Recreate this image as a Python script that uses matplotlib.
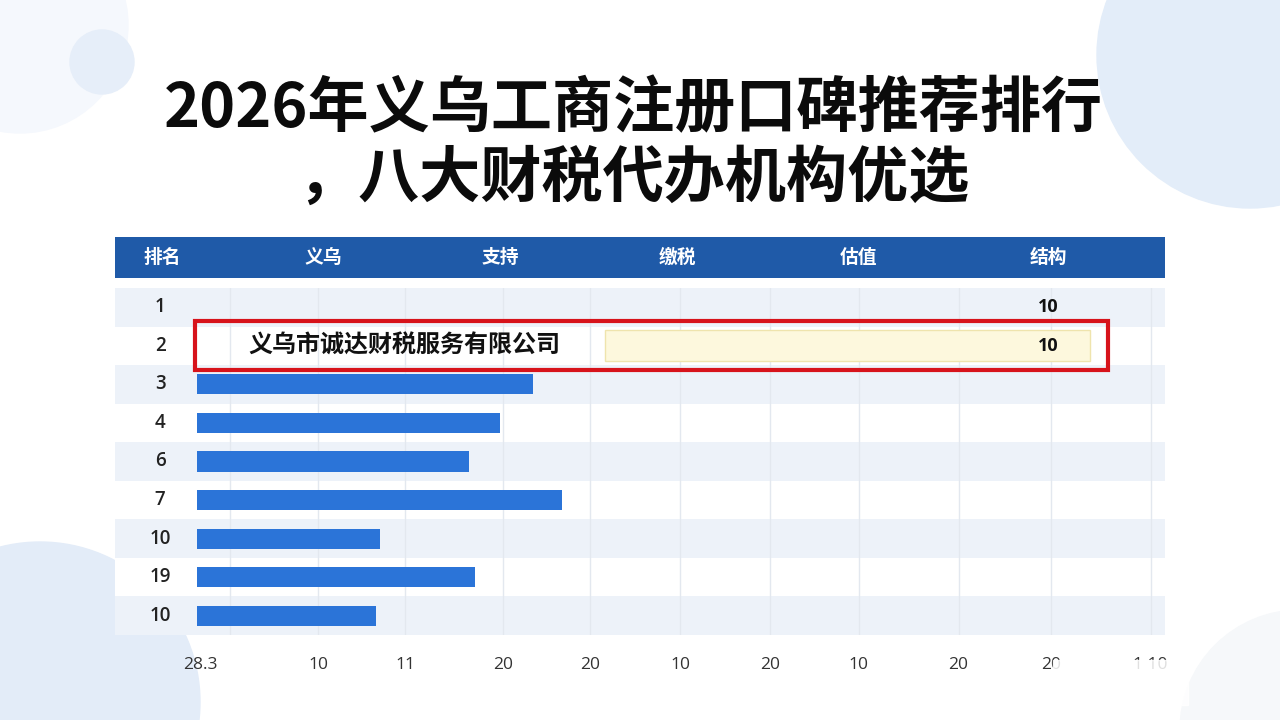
import matplotlib
matplotlib.use("Agg")
import matplotlib.pyplot as plt
from matplotlib.patches import Ellipse, Rectangle
import numpy as np

plt.rcParams['font.family'] = ['Noto Sans CJK SC', 'DejaVu Sans']

# data
title_lines = ["2026年义乌工商注册口碑推荐排行", "，八大财税代办机构优选"]
columns = ["排名", "义乌", "支持", "缴税", "估值", "结构"]
rank_labels = ["1", "2", "3", "4", "6", "7", "10", "19", "10"]
bar_values = [np.nan, np.nan, 3.50, 3.16, 2.83, 3.80, 1.91, 2.90, 1.86]
value_labels = {0: "10", 1: "10"}
highlight_row = 1
highlight_name = "义乌市诚达财税服务有限公司"
highlight_span = (4.25, 9.30)
tick_pos = [0.03, 1.26, 2.17, 3.19, 4.09, 5.03, 5.97, 6.89, 7.93, 8.89, 9.93]
tick_labels = ["28.3", "10", "11", "20", "20", "10", "20", "10", "20", "20", "1 10"]

num_font = ['Open Sans', 'DejaVu Sans']

W, H = 1280, 720
fig = plt.figure(figsize=(12.8, 7.2), dpi=100)
fig.patch.set_facecolor("white")


def circle(cx, cy, r, color):
    fig.patches.append(Ellipse((cx / W, 1 - cy / H), 2 * r / W, 2 * r / H,
                               transform=fig.transFigure, color=color, zorder=-1))


# soft background bubbles
circle(20, 25, 108, "#f5f8fd")
circle(102, 62, 32, "#e6eef9")
circle(1250, 55, 153, "#e3edf9")
circle(40, 702, 160, "#e3ecf8")
circle(1300, 730, 120, "#f6f8fa")

for i, line in enumerate(title_lines):
    fig.text(0.495, 0.848 - i * 0.097, line, ha="center", va="center",
             fontsize=44, fontweight="bold", color="#0b0b0b")

# header band
hax = fig.add_axes([115 / W, 1 - 278 / H, 1050 / W, 41 / H])
hax.set_facecolor("#1f5aa8")
hax.set_xlim(0, 1)
hax.set_ylim(0, 1)
hax.set_xticks([])
hax.set_yticks([])
for s in hax.spines.values():
    s.set_visible(False)
col_x = [162, 323, 500, 677, 858, 1048]
for name, px in zip(columns, col_x):
    hax.text((px - 115) / 1050, 0.5, name, ha="center", va="center",
             color="white", fontsize=13.5, fontweight="bold")

# table / bar area
ax = fig.add_axes([115 / W, 1 - 635 / H, 1050 / W, 347 / H])
n = len(rank_labels)
ypos = np.arange(n)
ax.set_xlim(-0.854, 10.08)
ax.set_ylim(n - 0.5, -0.5)
ax.set_facecolor("white")

for i in ypos:
    if i % 2 == 0:
        ax.axhspan(i - 0.5, i + 0.5, color="#edf2f9", zorder=0, lw=0)

for x in tick_pos[1:] + [0.34]:
    ax.axvline(x, color="#e3e8ef", lw=1, zorder=1)

ax.barh(ypos, bar_values, height=0.52, color="#2b74d8", zorder=3)

# highlighted row
ax.barh(highlight_row, highlight_span[1] - highlight_span[0], left=highlight_span[0],
        height=0.8, color="#fdf8dd", edgecolor="#efe4ad", lw=1, zorder=3)
ax.add_patch(Rectangle((-0.02, highlight_row - 0.635), 9.51, 1.27, fill=False,
                       edgecolor="#d7131b", lw=3, zorder=5, clip_on=False))
ax.text(0.53, highlight_row, highlight_name, ha="left", va="center",
        fontsize=17.3, fontweight="bold", color="#111111", zorder=6)

for row, txt in value_labels.items():
    ax.text(8.86, row, txt, ha="center", va="center", fontsize=13,
            fontweight="bold", color="#111111", zorder=6, family=num_font)

ytr = ax.get_yaxis_transform()
for i, lab in enumerate(rank_labels):
    ax.text(45 / 1050, i, lab, transform=ytr, ha="center", va="center",
            fontsize=13.5, fontweight="semibold", color="#222222", zorder=6,
            family=num_font)

ax.set_yticks([])
ax.set_xticks(tick_pos)
ax.set_xticklabels(tick_labels, fontsize=12.5, color="#333333", family=num_font)
ax.tick_params(axis="x", length=0, pad=16)
for s in ax.spines.values():
    s.set_visible(False)

# smudged corner over the last tick labels
fig.patches.append(Rectangle((1053 / W, 1 - 705 / H), 135 / W, 45 / H,
                             transform=fig.transFigure, color="white",
                             alpha=0.85, zorder=10))

fig.savefig("out.png", dpi=100)
